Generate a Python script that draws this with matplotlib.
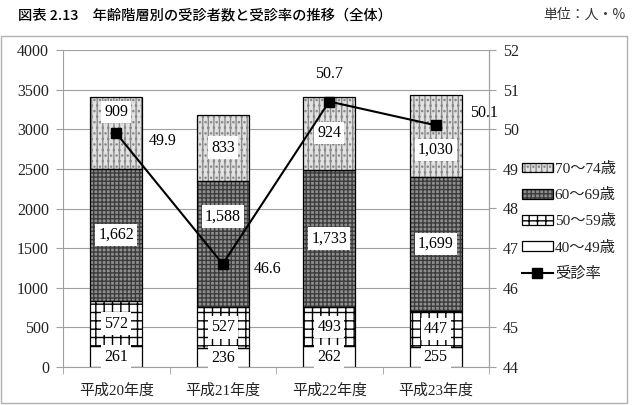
import numpy as np
import matplotlib
matplotlib.use("Agg")
import matplotlib.pyplot as plt
from matplotlib.patches import Patch, Rectangle
from matplotlib.lines import Line2D
from matplotlib.legend_handler import HandlerTuple

# ---- data ----
years = ["平成20年度", "平成21年度", "平成22年度", "平成23年度"]
age_40_49 = [261, 236, 262, 255]
age_50_59 = [572, 527, 493, 447]
age_60_69 = [1662, 1588, 1733, 1699]
age_70_74 = [909, 833, 924, 1030]
rate = [49.9, 46.6, 50.7, 50.1]
series_names = ["40～49歳", "50～59歳", "60～69歳", "70～74歳"]
rate_name = "受診率"
left_ticks = [0, 500, 1000, 1500, 2000, 2500, 3000, 3500, 4000]
right_ticks = [44, 45, 46, 47, 48, 49, 50, 51, 52]

SERIF = ["Liberation Serif", "Noto Sans CJK JP"]
JP = ["Noto Sans CJK JP", "DejaVu Sans"]
GRID = "#a0a0a0"
FS = 11.5

fig = plt.figure(figsize=(6.37, 4.05), dpi=100)
ax = fig.add_axes([63/637, 1-367/405, (489-63)/637, (367-50)/405])

# outer frame
fig.patches.append(Rectangle((1/637, 1-403/405), 626/637, (403-36)/405,
                             transform=fig.transFigure, fill=False,
                             edgecolor="#b0b0b0", lw=1.0))

styles = [
    dict(face="white", hatch=None, hc="black"),
    dict(face="white", hatch="++", hc="black"),
    dict(face="#8e8e8e", hatch="++++", hc="#3c3c3c"),
    dict(face="#e2e2e2", hatch="|||...", hc="#8a8a8a"),
]

x = np.arange(len(years))
w = 0.49
data = [age_40_49, age_50_59, age_60_69, age_70_74]
bottom = np.zeros(len(years))
# label offsets in pixels (to avoid line markers)
offsets = {(3, 0): 21, (2, 1): 27, (3, 3): -14}
for si, vals in enumerate(data):
    st = styles[si]
    vals = np.array(vals, dtype=float)
    ax.bar(x, vals, w, bottom=bottom, color=st["face"], hatch=st["hatch"],
           edgecolor=st["hc"], linewidth=0, zorder=2)
    ax.bar(x, vals, w, bottom=bottom, fill=False, edgecolor="black",
           linewidth=0.9, zorder=3)
    for i in range(len(years)):
        yc = bottom[i] + vals[i] / 2
        ax.annotate(f"{int(vals[i]):,}", (x[i], yc), xytext=(0, offsets.get((si, i), 0)),
                    textcoords="offset pixels", ha="center", va="center",
                    fontsize=FS, family=SERIF, zorder=5,
                    bbox=dict(boxstyle="square,pad=0.2", fc="white", ec="none"))
    bottom += vals

ax.set_xlim(-0.5, len(years) - 0.5)
ax.set_ylim(0, 4000)
ax.set_yticks(left_ticks)
ax.yaxis.grid(True, color=GRID, lw=0.8, zorder=0)
ax.set_axisbelow(True)
ax.set_xticks(x)
ax.set_xticklabels(years)
ax.set_xticks(np.arange(-0.5, len(years)), minor=True)
ax.tick_params(axis="x", which="major", length=0, pad=12)
ax.tick_params(axis="x", which="minor", length=5, color=GRID, direction="out")
ax.tick_params(axis="y", length=5, color=GRID, pad=5)
for lab in ax.get_xticklabels():
    lab.set_family(SERIF)
    lab.set_fontsize(10.8)
    lab.set_color("#222222")
for lab in ax.get_yticklabels():
    lab.set_family(SERIF)
    lab.set_fontsize(FS)
    lab.set_color("#222222")
for s in ["left", "bottom", "right"]:
    ax.spines[s].set_color(GRID)
ax.spines["top"].set_visible(False)

ax2 = ax.twinx()
ax2.plot(x, rate, color="black", lw=1.5, marker="s", markersize=6.5, zorder=4)
ax2.set_ylim(44, 52)
ax2.set_yticks(right_ticks)
ax2.tick_params(axis="y", length=5, color=GRID, pad=5)
for lab in ax2.get_yticklabels():
    lab.set_family(SERIF)
    lab.set_fontsize(FS)
    lab.set_color("#222222")
for s in ["left", "bottom", "top"]:
    ax2.spines[s].set_visible(False)
ax2.spines["right"].set_color(GRID)

rate_offsets = [(46, -8), (45, -5), (0, 28), (48, 12)]
for i, r in enumerate(rate):
    dx, dy = rate_offsets[i]
    ax2.annotate(f"{r:.1f}", (x[i], r), xytext=(dx, dy), textcoords="offset pixels",
                 ha="center", va="center", fontsize=FS, family=SERIF, zorder=6,
                 annotation_clip=False)

# legend
handles = []
for si in [3, 2, 1, 0]:
    st = styles[si]
    handles.append((Patch(facecolor=st["face"], hatch=st["hatch"], edgecolor=st["hc"], lw=0),
                    Patch(fill=False, edgecolor="black", lw=0.9)))
handles.append(Line2D([], [], color="black", lw=1.5, marker="s", markersize=6.5))
labels = [series_names[3], series_names[2], series_names[1], series_names[0], rate_name]
leg = fig.legend(handles, labels, loc="upper left", bbox_to_anchor=(522/637, 1-162/405),
                 frameon=False, borderpad=0, borderaxespad=0, handlelength=2.0,
                 handletextpad=0.15, labelspacing=0.8, handleheight=0.6,
                 handler_map={tuple: HandlerTuple(ndivide=1)},
                 prop=dict(family=SERIF, size=11))
for t in leg.get_texts():
    t.set_color("#222222")

fig.text(18/637, 1-15/405, "図表 2.13　年齢階層別の受診者数と受診率の推移（全体）",
         family=JP, fontsize=10.3, ha="left", va="center", weight="medium")
fig.text(625/637, 1-15/405, "単位：人・%", family=JP, fontsize=10,
         ha="right", va="center", color="#333333")

fig.savefig("out.png", dpi=100)
